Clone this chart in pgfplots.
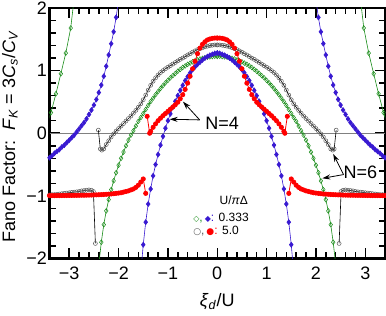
\documentclass[border=0pt]{standalone}
\usepackage{fontspec}
\setmainfont{Liberation Sans}
\newfontfamily\dejavu{DejaVu Sans}
\usepackage{pgfplots}
\pgfplotsset{compat=1.18}
\usepackage{pgfplotstable}
\usetikzlibrary{arrows.meta}
\definecolor{cblue}{rgb}{0.22,0.1,0.82}
\definecolor{cgreen}{rgb}{0.1,0.55,0.1}
\definecolor{cred}{rgb}{1,0,0}
\definecolor{cgray}{rgb}{0.35,0.35,0.35}

% N=4, U/pi Delta = 0.333 (blue), inner branch, xi >= 0 (mirrored)
\pgfplotstableread{
x y
0.00 1.28
0.05 1.275
0.10 1.26
0.15 1.245
0.20 1.225
0.25 1.20
0.30 1.17
0.35 1.135
0.40 1.10
0.45 1.06
0.50 1.015
0.55 0.965
0.60 0.905
0.65 0.84
0.70 0.765
0.75 0.685
0.80 0.60
0.85 0.51
0.90 0.415
0.95 0.31
1.00 0.20
1.05 0.08
1.10 -0.05
1.15 -0.19
1.20 -0.34
1.25 -0.50
1.30 -0.68
1.35 -0.89
1.40 -1.13
1.45 -1.42
1.50 -1.78
1.53 -2.05
}\blueIn
% blue, outer branch
\pgfplotstableread{
x y
2.02 2.02
2.05 1.85
2.10 1.62
2.15 1.43
2.20 1.25
2.25 1.07
2.30 0.91
2.35 0.77
2.40 0.65
2.45 0.54
2.50 0.45
2.55 0.37
2.60 0.30
2.65 0.23
2.70 0.17
2.75 0.12
2.80 0.07
2.85 0.02
2.90 -0.03
2.95 -0.07
3.00 -0.11
3.05 -0.15
3.10 -0.19
3.15 -0.22
3.20 -0.26
3.25 -0.29
3.30 -0.32
3.35 -0.36
3.40 -0.39
}\blueOut
% N=6, U/pi Delta = 0.333 (green), inner branch
\pgfplotstableread{
x y
0.00 1.23
0.05 1.23
0.10 1.225
0.15 1.22
0.20 1.215
0.25 1.205
0.30 1.195
0.35 1.185
0.40 1.17
0.45 1.155
0.50 1.14
0.55 1.12
0.60 1.10
0.65 1.075
0.70 1.05
0.75 1.02
0.80 0.99
0.85 0.955
0.90 0.92
0.95 0.885
1.00 0.845
1.05 0.805
1.10 0.76
1.15 0.715
1.20 0.665
1.25 0.615
1.30 0.56
1.35 0.505
1.40 0.445
1.45 0.38
1.50 0.315
1.55 0.25
1.60 0.19
1.65 0.115
1.70 0.04
1.75 -0.03
1.80 -0.11
1.85 -0.20
1.90 -0.30
1.95 -0.40
2.00 -0.51
2.05 -0.63
2.10 -0.76
2.15 -0.90
2.20 -1.06
2.25 -1.24
2.30 -1.46
2.35 -1.74
2.39 -2.02
}\greenIn
% green, outer branch
\pgfplotstableread{
x y
2.92 2.02
2.97 1.68
3.07 1.28
3.17 0.95
3.27 0.63
3.37 0.33
3.45 0.12
}\greenOut
% N=6, U/pi Delta = 5.0 (black), middle branch
\pgfplotstableread{
x y
0.00 1.41
0.05 1.41
0.10 1.405
0.15 1.40
0.20 1.39
0.25 1.38
0.30 1.365
0.35 1.35
0.40 1.335
0.45 1.315
0.50 1.295
0.55 1.27
0.60 1.25
0.65 1.225
0.70 1.20
0.75 1.18
0.80 1.155
0.85 1.13
0.90 1.105
0.95 1.08
1.00 1.055
1.05 1.03
1.10 1.00
1.15 0.97
1.20 0.93
1.25 0.885
1.30 0.83
1.35 0.765
1.40 0.69
1.45 0.61
1.50 0.535
1.55 0.47
1.60 0.415
1.65 0.365
1.70 0.32
1.75 0.275
1.80 0.235
1.85 0.195
1.90 0.155
1.95 0.115
2.00 0.075
2.05 0.035
2.10 -0.01
2.15 -0.06
2.20 -0.12
2.25 -0.18
2.30 -0.25
2.34 -0.27
2.37 -0.25
2.41 0.05
}\blackMid
% black, outer branch
\pgfplotstableread{
x y
2.47 -1.76
2.51 -0.93
2.55 -0.91
2.60 -0.905
2.65 -0.91
2.70 -0.915
2.75 -0.92
2.80 -0.93
2.85 -0.935
2.90 -0.94
2.95 -0.945
3.00 -0.95
3.05 -0.955
3.10 -0.96
3.15 -0.965
3.20 -0.97
3.25 -0.975
3.30 -0.98
3.35 -0.98
3.40 -0.985
}\blackOut
% N=4, U/pi Delta = 5.0 (red), middle branch
\pgfplotstableread{
x y
0.00 1.52
0.05 1.52
0.10 1.515
0.15 1.505
0.20 1.49
0.25 1.46
0.30 1.42
0.35 1.36
0.40 1.27
0.45 1.15
0.50 1.03
0.55 0.91
0.60 0.80
0.65 0.70
0.70 0.615
0.75 0.55
0.80 0.495
0.85 0.455
0.90 0.42
0.95 0.385
1.00 0.35
1.05 0.315
1.10 0.28
1.15 0.24
1.20 0.20
1.25 0.15
1.30 0.095
1.35 0.03
1.37 0.00
1.42 0.27
}\redMid
% red, outer branch
\pgfplotstableread{
x y
1.45 -0.96
1.50 -0.73
1.55 -0.78
1.60 -0.83
1.65 -0.865
1.70 -0.89
1.75 -0.905
1.80 -0.92
1.85 -0.93
1.90 -0.94
1.95 -0.95
2.00 -0.955
2.05 -0.96
2.10 -0.965
2.15 -0.97
2.20 -0.972
2.25 -0.975
2.30 -0.978
2.35 -0.98
2.40 -0.982
2.45 -0.984
2.50 -0.985
2.55 -0.987
2.60 -0.988
2.65 -0.989
2.70 -0.99
2.75 -0.99
2.80 -0.991
2.85 -0.992
2.90 -0.992
2.95 -0.993
3.00 -0.993
3.05 -0.994
3.10 -0.994
3.15 -0.995
3.20 -0.995
3.25 -0.995
3.30 -0.996
3.35 -0.996
3.40 -0.996
}\redOut

\pgfplotsset{
  gstyle/.style={cgreen, line width=0.6pt, mark=diamond, mark size=2.4pt, mark options={cgreen, line width=0.5pt}},
  kstyle/.style={black, line width=0.6pt, mark=o, mark size=2.0pt, mark options={cgray, line width=0.5pt}},
  bstyle/.style={cblue, line width=0.6pt, mark=diamond*, mark size=2.5pt, mark options={draw=cblue, fill=cblue}},
  rstyle/.style={cred, line width=0.8pt, mark=*, mark size=2.1pt, mark options={draw=cred, fill=cred}},
}

\begin{document}
\begin{tikzpicture}
\begin{axis}[
  scale only axis, width=335.5pt, height=250.5pt,
  xmin=-3.4, xmax=3.4, ymin=-2, ymax=2,
  xtick={-3,-2,-1,0,1,2,3}, xticklabels={−3,−2,−1,0,1,2,3},
  ytick={-2,-1,0,1,2}, yticklabels={−2,−1,0,1,2},
  minor x tick num=4, minor y tick num=4,
  tick align=inside,
  major tick length=10pt, minor tick length=6pt,
  every tick/.style={black, line width=1.5pt},
  axis line style={line width=2.2pt},
  tick label style={font=\fontsize{18}{21}\selectfont},
  xticklabel style={inner sep=0pt, anchor=north, yshift=-8.5pt},
  yticklabel style={inner sep=0pt, anchor=east, xshift=-2.5pt},
  xlabel={\textit{ξ}\textsubscript{\textit{d}}/U},
  ylabel={Fano Factor:\ \ \textit{F}\textsubscript{\textit{K}} = 3\textit{C}\textsubscript{\textit{s}}/\textit{C}\textsubscript{\textit{V}}},
  xlabel style={at={(axis description cs:0.5,0)}, anchor=base, yshift=-48pt, font=\fontsize{18}{21}\selectfont},
  ylabel style={at={(axis description cs:-0.1028,0.487)}, anchor=base, font=\fontsize{18}{21}\selectfont},
]
\addplot[gray, line width=0.5pt, forget plot] coordinates {(-3.4,0) (3.4,0)};

\addplot[gstyle] table[x=x,y=y] {\greenIn};
\addplot[gstyle] table[x expr=-\thisrow{x},y=y] {\greenIn};
\addplot[gstyle] table[x=x,y=y] {\greenOut};
\addplot[gstyle] table[x expr=-\thisrow{x},y=y] {\greenOut};

\addplot[kstyle] table[x=x,y=y] {\blackMid};
\addplot[kstyle] table[x expr=-\thisrow{x},y=y] {\blackMid};
\addplot[kstyle] table[x=x,y=y] {\blackOut};
\addplot[kstyle] table[x expr=-\thisrow{x},y=y] {\blackOut};

\addplot[bstyle] table[x=x,y=y] {\blueIn};
\addplot[bstyle] table[x expr=-\thisrow{x},y=y] {\blueIn};
\addplot[bstyle] table[x=x,y=y] {\blueOut};
\addplot[bstyle] table[x expr=-\thisrow{x},y=y] {\blueOut};

\addplot[rstyle] table[x=x,y=y] {\redMid};
\addplot[rstyle] table[x expr=-\thisrow{x},y=y] {\redMid};
\addplot[rstyle] table[x=x,y=y] {\redOut};
\addplot[rstyle] table[x expr=-\thisrow{x},y=y] {\redOut};

% annotations
\draw[-{Stealth[length=8pt,width=5pt]}, line width=0.8pt] (axis cs:-0.356,0.213) -- (axis cs:-0.695,0.505);
\draw[-{Stealth[length=8pt,width=5pt]}, line width=0.8pt] (axis cs:-0.356,0.213) -- (axis cs:-0.965,0.224);
\node[anchor=base, font=\fontsize{18}{21}\selectfont] at (axis cs:0.10,0.053) {N=4};
\draw[-{Stealth[length=8pt,width=5pt]}, line width=0.8pt] (axis cs:2.56,-0.66) -- (axis cs:2.35,-0.33);
\draw[-{Stealth[length=8pt,width=5pt]}, line width=0.8pt] (axis cs:2.56,-0.66) -- (axis cs:2.13,-0.72);
\node[anchor=base, font=\fontsize{18}{21}\selectfont] at (axis cs:2.90,-0.72) {N=6};

% legend (text)
\node[anchor=base, font=\fontsize{12}{14}\selectfont] at (axis cs:0.335,-1.145) {U/\textit{π}Δ};
\node[anchor=base west, inner sep=0pt, font=\fontsize{12}{14}\selectfont] at (axis cs:-0.49,-1.41)
  {\textcolor{cgreen}{{\dejavu\fontsize{8}{9}\selectfont ◇},}\,\textcolor{cblue}{{\dejavu\fontsize{8}{9}\selectfont ◆}:} 0.333};
\node[anchor=base west, inner sep=0pt, font=\fontsize{12}{14}\selectfont] at (axis cs:-0.49,-1.62)
  {\textcolor{cgray}{{\dejavu\fontsize{9}{9}\selectfont ○},}\,\textcolor{cred}{{\dejavu\fontsize{9}{9}\selectfont ●}:} 5.0};
\end{axis}
\pgfresetboundingbox
\path[use as bounding box] ([shift={(-49.5pt,-57.5pt)}]current axis.south west) rectangle ([shift={(1pt,8pt)}]current axis.north east);
\end{tikzpicture}
\end{document}
